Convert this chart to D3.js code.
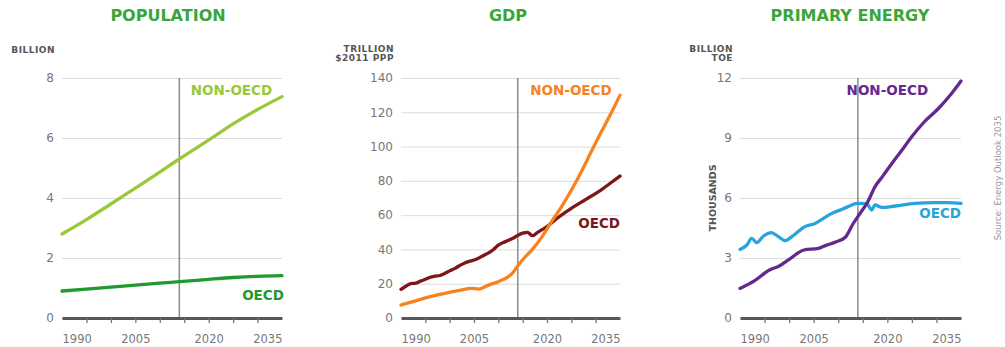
<!DOCTYPE html>
<html>
<head>
<meta charset="utf-8">
<script src="https://cdn.jsdelivr.net/npm/d3@7"></script>
<style>
  body { margin: 0; background: #fff; }
  svg { display: block; font-family: "DejaVu Sans", sans-serif; }
</style>
</head>
<body>
<svg id="chart" width="1005" height="347"></svg>
<script>
// --- data: [year, value] ---
const popNonOecd = [[1990,2.8],[1995,3.28],[2000,3.8],[2005,4.33],[2010,4.86],[2014,5.3],[2020,5.93],[2025,6.47],[2030,6.95],[2035,7.38]];
const popOecd = [[1990,0.9],[2000,1.03],[2010,1.16],[2014,1.21],[2020,1.29],[2025,1.35],[2030,1.39],[2035,1.41]];

const gdpOecd = [[1990,16.7],[1991,18.5],[1992,20],[1993,20.3],[1994,21.5],[1995,22.6],[1996,23.8],[1997,24.4],[1998,24.8],
  [1999,26],[2000,27.5],[2001,28.8],[2002,30.5],[2003,32],[2004,33],[2005,33.8],[2006,35],[2007,36.5],[2008,38],[2009,40],
  [2010,42.5],[2011,44],[2012,45.2],[2013,46.5],[2014,48.2],[2015,49.5],[2016,50],[2017,48],[2018,49.8],[2019,51.5],
  [2020,53.3],[2022,58],[2025,64],[2028,69.2],[2031,74.5],[2033,78.6],[2035,82.8]];
const gdpNonOecd = [[1990,7.6],[1993,10],[1996,12.5],[1999,14.4],[2002,16.1],[2004.5,17.3],[2006,16.9],[2008,19.2],[2010,21.2],
  [2012,24],[2013,26.5],[2014,30.5],[2015,34],[2017,40],[2019,47.5],[2021,56.5],[2023,65],[2025,74.5],[2027,85],[2029,96.5],
  [2031,107.7],[2033,118.5],[2035,130]];

const energyNonOecd = [[1990,1.48],[1993,1.87],[1996,2.4],[1998,2.6],[2000,2.93],[2003,3.4],[2006,3.48],[2007.5,3.63],[2009.5,3.8],
  [2011.5,4.05],[2013,4.7],[2014.5,5.25],[2016,5.8],[2017.5,6.57],[2019,7.07],[2021,7.75],[2023,8.4],[2025,9.07],[2027.5,9.8],
  [2030.5,10.5],[2033,11.2],[2035,11.85]];
const energyOecd = [[1990,3.43],[1991.4,3.65],[1992.4,3.98],[1993.4,3.77],[1994.8,4.1],[1996.4,4.27],[1997.8,4.07],[1999.2,3.87],
  [2001,4.15],[2003.2,4.57],[2005.3,4.73],[2007,4.98],[2008.7,5.23],[2010.7,5.43],[2012,5.57],[2013.8,5.73],[2015.8,5.72],
  [2016.8,5.4],[2017.5,5.65],[2018.9,5.53],[2021.6,5.6],[2025.6,5.73],[2029.7,5.77],[2032.4,5.77],[2035,5.73]];

const xLabels = [1990, 2005, 2020, 2035];
const xTicks = [1995, 2000, 2005, 2010, 2015, 2020, 2025, 2030];
const popTicks = [0, 2, 4, 6, 8];
const gdpTicks = [0, 20, 40, 60, 80, 100, 120, 140];
const energyTicks = [0, 3, 6, 9, 12];
const historyEnd = 2014;

const panels = [
  { title: 'POPULATION', titleX: 168, x0: 62, x1: 282, ticks: popTicks, unit: ['BILLION'],
    series: [
      { data: popNonOecd, color: '#99c93a', label: 'NON-OECD', lx: 2033, ly: 7.45 },
      { data: popOecd, color: '#1f9a2e', label: 'OECD', lx: 2035.4, ly: 0.6 }
    ] },
  { title: 'GDP', titleX: 508, x0: 401, x1: 620, ticks: gdpTicks, unit: ['TRILLION', '$2011 PPP'],
    series: [
      { data: gdpOecd, color: '#7c1618', label: 'OECD', lx: 2035, ly: 52.5 },
      { data: gdpNonOecd, color: '#f7821f', label: 'NON-OECD', lx: 2033.3, ly: 130 }
    ] },
  { title: 'PRIMARY ENERGY', titleX: 850, x0: 740, x1: 961, ticks: energyTicks, unit: ['BILLION', 'TOE'],
    series: [
      { data: energyOecd, color: '#27a4dc', label: 'OECD', lx: 2035, ly: 5.0 },
      { data: energyNonOecd, color: '#65288f', label: 'NON-OECD', lx: 2028.3, ly: 11.15 }
    ] }
];

const svg = d3.select('#chart');
const plotTop = 78, plotBottom = 318;

panels.forEach(p => {
  const x = d3.scaleLinear().domain([1990, 2035]).range([p.x0, p.x1]);
  const y = d3.scaleLinear().domain([0, d3.max(p.ticks)]).range([plotBottom, plotTop]);
  const g = svg.append('g');

  // title
  g.append('text')
    .attr('x', p.titleX).attr('y', 21)
    .attr('text-anchor', 'middle')
    .style('font-size', '16px').style('font-weight', 'bold')
    .attr('fill', '#3aa639')
    .text(p.title);

  // unit label
  p.unit.forEach((u, i) => {
    g.append('text')
      .attr('x', p.x0 - 7)
      .attr('y', (p.unit.length === 1 ? 53 : 52) + i * 9)
      .attr('text-anchor', 'end')
      .style('font-size', '9px').style('font-weight', 'bold')
      .style('letter-spacing', '0.5px')
      .attr('fill', '#555')
      .text(u);
  });

  // gridlines + y labels
  const yAxis = g.append('g')
    .attr('transform', `translate(${p.x0},0)`)
    .call(d3.axisLeft(y).tickValues(p.ticks).tickSize(-(p.x1 - p.x0)).tickPadding(8));
  yAxis.select('.domain').remove();
  yAxis.selectAll('line').attr('stroke', '#dcdcdc');
  yAxis.selectAll('text').attr('fill', '#777').style('font-size', '12px').style('font-family', '"DejaVu Sans", sans-serif');

  // history / projection divider
  g.append('line')
    .attr('x1', x(historyEnd)).attr('x2', x(historyEnd))
    .attr('y1', plotTop).attr('y2', plotBottom + 2)
    .attr('stroke', '#8a8a8a').attr('stroke-width', 1.5);

  // x ticks and baseline
  const xt = g.append('g')
    .attr('transform', `translate(0,${plotBottom})`)
    .call(d3.axisBottom(x).tickValues(xTicks).tickSize(5).tickSizeOuter(0).tickFormat(''));
  xt.select('.domain').attr('stroke', '#575757').attr('stroke-width', 3);
  xt.selectAll('.tick line').attr('stroke', '#777').attr('stroke-width', 1.3);

  const xl = g.append('g')
    .attr('transform', `translate(0,${plotBottom})`)
    .call(d3.axisBottom(x).tickValues(xLabels).tickSize(0).tickPadding(17).tickFormat(d3.format('d')));
  xl.select('.domain').remove();
  xl.selectAll('text')
    .attr('fill', '#777').style('font-size', '11.5px').style('font-family', '"DejaVu Sans", sans-serif')
    .attr('text-anchor', d => d === 1990 ? 'start' : d === 2035 ? 'end' : 'middle');

  // lines
  const line = d3.line().x(d => x(d[0])).y(d => y(d[1])).curve(d3.curveMonotoneX);
  p.series.forEach(s => {
    g.append('path')
      .datum(s.data)
      .attr('d', line)
      .attr('fill', 'none')
      .attr('stroke', s.color)
      .attr('stroke-width', 3.3)
      .attr('stroke-linejoin', 'round')
      .attr('stroke-linecap', 'round');
    g.append('text')
      .attr('x', x(s.lx)).attr('y', y(s.ly))
      .attr('text-anchor', 'end')
      .style('font-size', '13.5px').style('font-weight', 'bold')
      .attr('fill', s.color)
      .text(s.label);
  });
});

// side labels
svg.append('text')
  .attr('transform', 'translate(716,198) rotate(-90)')
  .attr('text-anchor', 'middle')
  .style('font-size', '9.5px').style('font-weight', 'bold')
  .attr('fill', '#555')
  .text('THOUSANDS');

svg.append('text')
  .attr('transform', 'translate(1001,178) rotate(-90)')
  .attr('text-anchor', 'middle')
  .style('font-size', '8.5px')
  .attr('fill', '#999')
  .text('Source: Energy Outlook 2035');
</script>
</body>
</html>
